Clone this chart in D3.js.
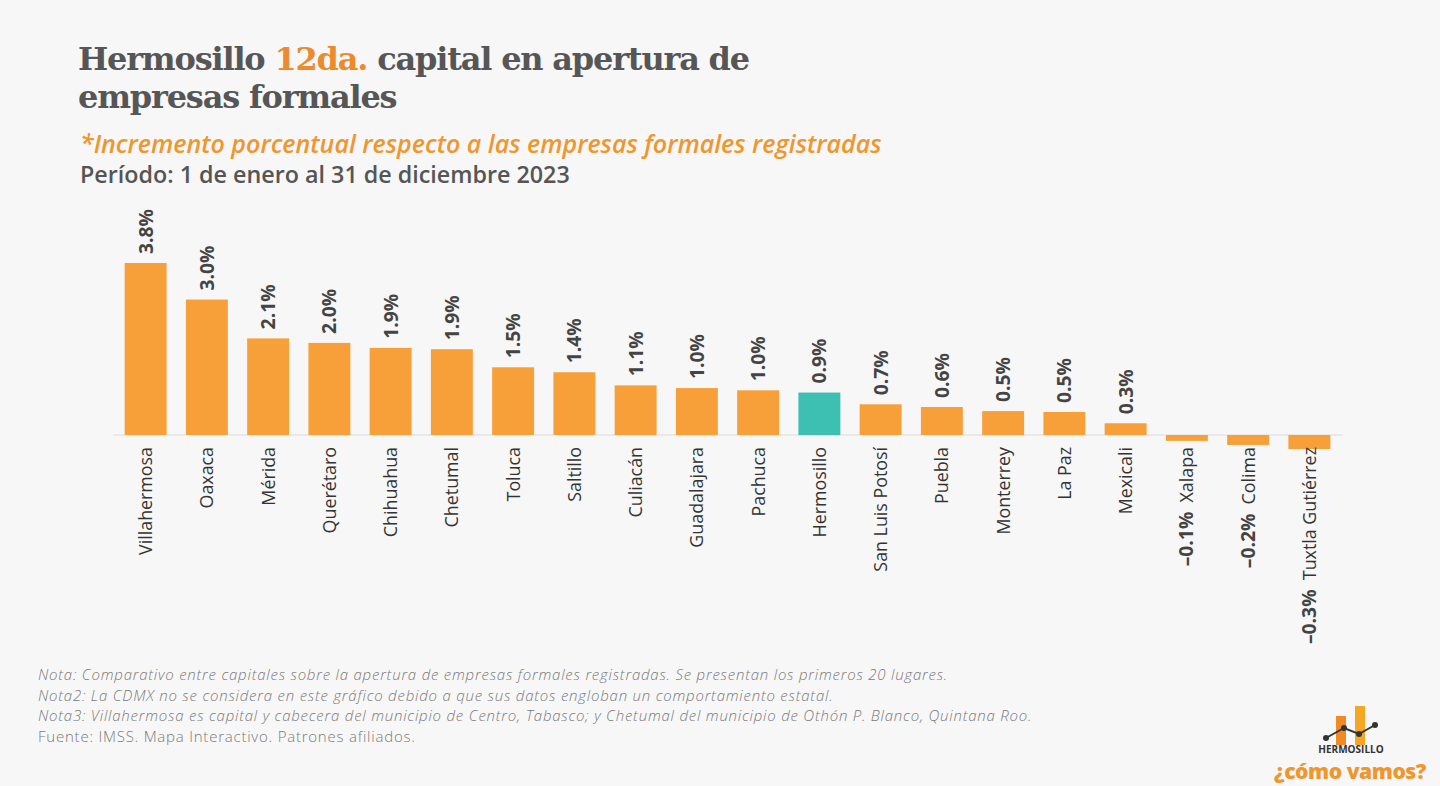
<!DOCTYPE html>
<html><head><meta charset="utf-8">
<script src="https://cdn.jsdelivr.net/npm/d3@7"></script>
<style>
html,body{margin:0;padding:0;background:#f7f7f7;}
svg{display:block;}
</style></head>
<body>
<svg id="c" width="1440" height="786"></svg>
<script>
const cities = ["Villahermosa","Oaxaca","Mérida","Querétaro","Chihuahua","Chetumal","Toluca","Saltillo","Culiacán","Guadalajara","Pachuca","Hermosillo","San Luis Potosí","Puebla","Monterrey","La Paz","Mexicali","Xalapa","Colima","Tuxtla Gutiérrez"];
const values = [3.81,3.0,2.14,2.04,1.93,1.9,1.5,1.39,1.1,1.04,0.99,0.94,0.68,0.62,0.53,0.51,0.26,-0.13,-0.22,-0.31];
const highlight = "Hermosillo";
const notes = [
 "Nota: Comparativo entre capitales sobre la apertura de empresas formales registradas. Se presentan los primeros 20 lugares.",
 "Nota2: La CDMX no se considera en este gráfico debido a que sus datos engloban un comportamiento estatal.",
 "Nota3: Villahermosa es capital y cabecera del municipio de Centro, Tabasco; y Chetumal del municipio de Othón P. Blanco, Quintana Roo."
];
const source = "Fuente: IMSS. Mapa Interactivo. Patrones afiliados.";

const svg = d3.select("#c");
svg.append("rect").attr("width",1440).attr("height",786).attr("fill","#f7f7f7");

// scale a text's font size so that its length matches a target width; returns the size
function fit(sel, target){
  const fs = parseFloat(sel.attr("font-size"));
  const len = sel.node().getComputedTextLength();
  const n = fs*target/len;
  sel.attr("font-size", n);
  return n;
}

const sans = "'Open Sans', 'Noto Sans', sans-serif";
// Title
const serif = "'DejaVu Serif','Liberation Serif',serif";
const t1 = svg.append("text").attr("x",78).attr("y",70)
  .attr("font-family",serif).attr("font-weight",700).attr("font-size",32)
  .attr("fill","#565656").attr("letter-spacing",-1.2);
t1.append("tspan").text("Hermosillo ");
t1.append("tspan").attr("fill","#ec8a2c").text("12da.");
t1.append("tspan").text(" capital en apertura de");
svg.append("text").attr("x",78).attr("y",108)
  .attr("font-family",serif).attr("font-weight",700).attr("font-size",32)
  .attr("fill","#565656").attr("letter-spacing",-1.2).text("empresas formales");

const sub = svg.append("text").attr("x",80).attr("y",153)
  .attr("font-family",sans).attr("font-style","italic").attr("font-weight",600)
  .attr("font-size",22).attr("fill","#f0962e")
  .text("*Incremento porcentual respecto a las empresas formales registradas");
fit(sub, 802);
const per = svg.append("text").attr("x",80).attr("y",183)
  .attr("font-family",sans).attr("font-weight",600)
  .attr("font-size",21).attr("fill","#555")
  .text("Período: 1 de enero al 31 de diciembre 2023");
fit(per, 490);

// Chart
const x = d3.scaleBand().domain(cities).range([115,1340]).paddingInner(0.315).paddingOuter(0.1575);
const y = d3.scaleLinear().domain([0,3.81]).range([435,263]);
const fmt = v => (v<0?"–":"") + Math.abs(v).toFixed(1) + "%";

svg.append("line").attr("x1",113).attr("x2",1343).attr("y1",y(0)).attr("y2",y(0))
  .attr("stroke","#dcdcdc").attr("stroke-width",1.2);

const data = cities.map((c,i)=>({c, v:values[i]}));
svg.selectAll("rect.bar").data(data).join("rect").attr("class","bar")
  .attr("x",d=>x(d.c)).attr("width",x.bandwidth())
  .attr("y",d=>Math.min(y(d.v),y(0))).attr("height",d=>Math.abs(y(d.v)-y(0)))
  .attr("fill",d=>d.c===highlight?"#3dbfb1":"#f7a03a");

// size calibration for value labels
const probeV = svg.append("text").attr("font-family",sans).attr("font-weight",700).attr("font-size",18).text(fmt(values[0]));
const vSize = fit(probeV, 45); probeV.remove();
const probeC = svg.append("text").attr("font-family",sans).attr("font-size",16).text(cities[0]);
const cSize = fit(probeC, 108); probeC.remove();

// value labels for positives
svg.selectAll("text.val").data(data.filter(d=>d.v>=0)).join("text").attr("class","val")
  .attr("transform",d=>`translate(${x(d.c)+x.bandwidth()/2},${y(d.v)-9}) rotate(-90)`)
  .attr("dy","0.36em").attr("text-anchor","start")
  .attr("font-family",sans).attr("font-weight",700).attr("font-size",vSize)
  .attr("fill","#444").text(d=>fmt(d.v));

// category labels (with value prefix for negatives)
const cat = svg.selectAll("text.cat").data(data).join("text").attr("class","cat")
  .attr("transform",d=>`translate(${x(d.c)+x.bandwidth()/2},447) rotate(-90)`)
  .attr("dy","0.36em").attr("text-anchor","end")
  .attr("font-family",sans).attr("font-size",cSize).attr("fill","#333");
cat.each(function(d){
  const t = d3.select(this);
  if(d.v<0){
    t.append("tspan").attr("font-weight",700).attr("font-size",vSize).attr("fill","#444").text(fmt(d.v));
    t.append("tspan").text("\u00a0\u00a0" + d.c);
  } else t.text(d.c);
});

// notes
const nt = svg.append("g").attr("font-family",sans).attr("fill","#7a7a7a").attr("font-size",15);
const lineGap = 20.6;
const n0 = nt.append("text").attr("x",38).attr("y",680).attr("font-style","italic").attr("font-weight",300)
  .text(notes[0]);
const ls = (910 - n0.node().getComputedTextLength()) / notes[0].length;
nt.attr("letter-spacing", ls);
notes.slice(1).forEach((n,i)=>{
  nt.append("text").attr("x",38).attr("y",680+(i+1)*lineGap).attr("font-style","italic").attr("font-weight",300).text(n);
});
nt.append("text").attr("x",38).attr("y",680+3*lineGap).attr("font-weight",300).text(source);

// logo
const lg = svg.append("g");
lg.append("rect").attr("x",1336).attr("y",716).attr("width",10).attr("height",29).attr("fill","#f08a24");
lg.append("rect").attr("x",1355).attr("y",706).attr("width",10).attr("height",39).attr("fill","#f5a623");
const pts = [[1326,738],[1344,728],[1359,734],[1375,725]];
lg.append("path").attr("d",d3.line()(pts)).attr("fill","none").attr("stroke","#333").attr("stroke-width",2);
lg.selectAll("circle").data(pts).join("circle").attr("cx",d=>d[0]).attr("cy",d=>d[1]).attr("r",3).attr("fill","#333");
lg.append("text").attr("x",1351).attr("y",753).attr("text-anchor","middle")
  .attr("font-family",sans).attr("font-weight",700).attr("font-size",10).attr("fill","#333").text("HERMOSILLO");
const cv = lg.append("text").attr("x",1350).attr("y",779).attr("text-anchor","middle")
  .attr("font-family",sans).attr("font-weight",800).attr("font-size",21).attr("fill","#f0962e")
  .attr("letter-spacing",-0.5).text("¿cómo vamos?");
fit(cv, 152);
</script>
</body></html>
